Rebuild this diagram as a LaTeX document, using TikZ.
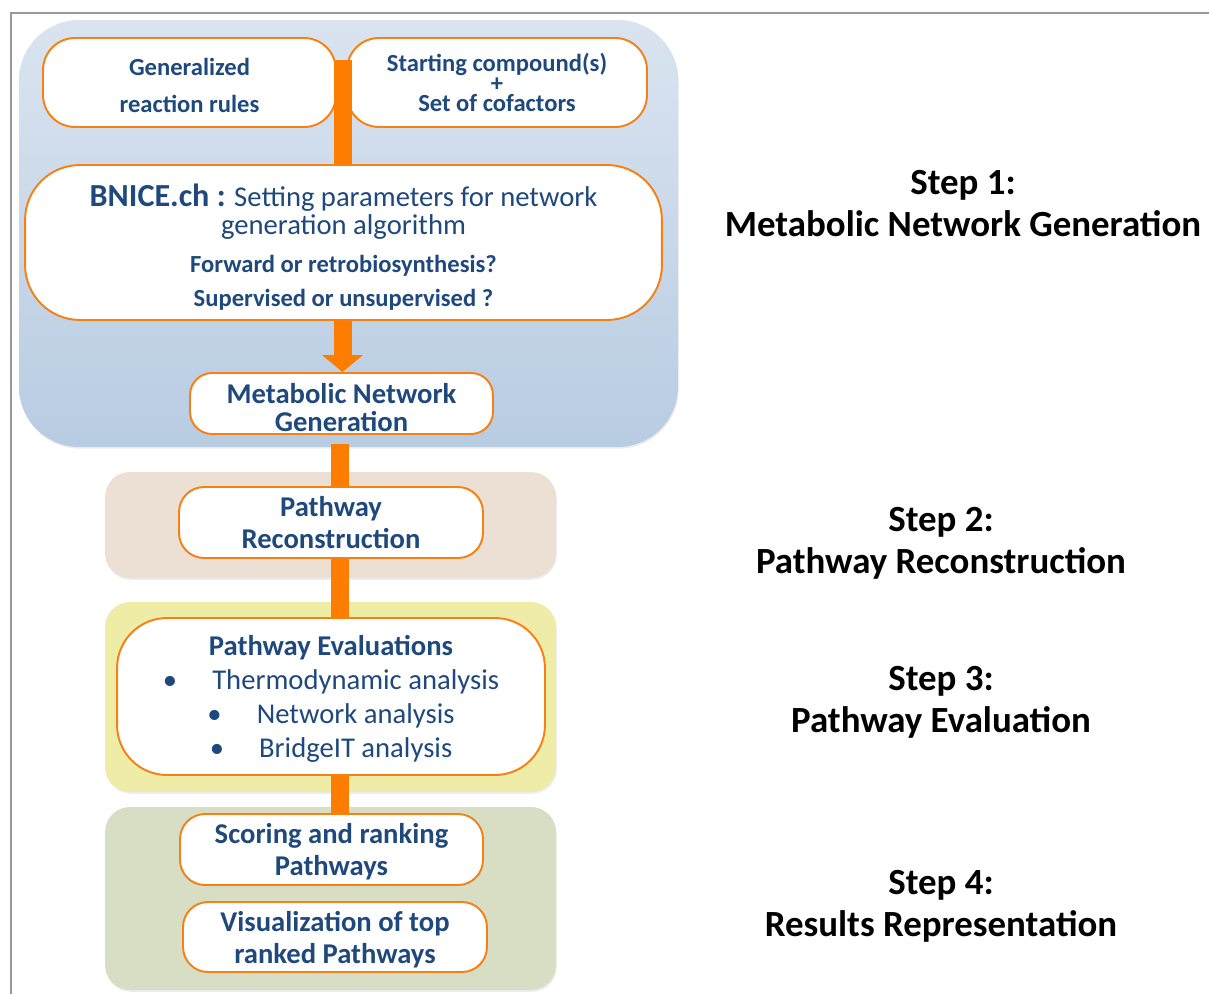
\documentclass[tikz,border=0pt]{standalone}
\usepackage{fontspec}
\setmainfont{Carlito}
\usetikzlibrary{arrows.meta,calc,shadows}
\definecolor{txtblue}{RGB}{31,73,125}
\definecolor{boxorange}{RGB}{247,128,20}
\definecolor{barorange}{RGB}{252,125,0}
\definecolor{blueTop}{RGB}{218,228,240}
\definecolor{blueBottom}{RGB}{184,204,226}
\definecolor{brownfill}{RGB}{236,223,211}
\definecolor{yellowfill}{RGB}{238,236,166}
\definecolor{greenfill}{RGB}{215,222,195}
\pgfdeclarelayer{regions}
\pgfdeclarelayer{bars}
\pgfsetlayers{regions,bars,main}

\begin{document}
\begin{tikzpicture}[x=0.02cm,y=-0.02cm,
    region/.style={rectangle,rounded corners=0.5cm,drop shadow={shadow xshift=0.5pt,shadow yshift=-1pt,opacity=0.15}},
    box/.style={rectangle,draw=boxorange,line width=1.1pt,fill=white,rounded corners=0.5cm,align=center,text=txtblue,font=\bfseries\fontsize{16.3}{18.3}\selectfont,inner sep=0pt,text depth=0pt},
    steplabel/.style={align=center,font=\bfseries\fontsize{21}{24.2}\selectfont},
    bar/.style={draw=barorange,line width=0.36cm}]
    \useasboundingbox (0,0) rectangle (1209,994);
    \draw[gray!80,line width=1.2pt] (11,994) -- (11,13) -- (1209,13);
    % coloured step regions
    \begin{pgfonlayer}{regions}
    \node[region,rounded corners=1.2cm,minimum width=13.18cm,minimum height=8.54cm,top color=blueTop,bottom color=blueBottom] (stepone) at (348.5,233.5) {};
    \node[region,fill=brownfill,minimum width=9.02cm,minimum height=2.12cm] (steptwo) at (330.5,525) {};
    \node[region,fill=yellowfill,minimum width=9.02cm,minimum height=3.8cm] (stepthree) at (330.5,697) {};
    \node[region,fill=greenfill,minimum width=9.02cm,minimum height=3.66cm] (stepfour) at (330.5,898.5) {};
    \end{pgfonlayer}
    % boxes
    \node[box,rounded corners=0.64cm,minimum width=5.86cm,minimum height=1.78cm,font=\bfseries\fontsize{14}{21}\selectfont] (rules) at (189.5,82.5) {\rule{0pt}{13.4pt}Generalized\\reaction rules};
    \node[box,rounded corners=0.64cm,minimum width=6cm,minimum height=1.78cm,font=\bfseries\fontsize{14}{16}\selectfont] (start) at (497,82.5) {Starting compound(s)\\[-4.7pt]+\\[-4.7pt]Set of cofactors};
    \node[box,rounded corners=1.1cm,minimum width=12.74cm,minimum height=3.1cm,font=\bfseries\fontsize{16.3}{15.9}\selectfont] (bnice) at (343.5,242.5) {\rule{0pt}{16.2pt}{\fontsize{18.3}{18}\selectfont BNICE.ch :} {\mdseries Setting parameters for network}\\{\mdseries generation algorithm}\\[6pt] {\fontsize{14}{15}\selectfont Forward or retrobiosynthesis?}\\[3.4pt] {\fontsize{14}{15}\selectfont Supervised or unsupervised ?}};
    \node[box,rounded corners=0.44cm,minimum width=6.06cm,minimum height=1.22cm,font=\bfseries\fontsize{16.3}{15.9}\selectfont] (netgen) at (341.5,403.5) {\rule{0pt}{15.6pt}Metabolic Network\\Generation};
    \node[box,minimum width=6.08cm,minimum height=1.42cm] (recon) at (331,522.5) {Pathway\\Reconstruction};
    \node[box,rounded corners=1cm,minimum width=8.56cm,minimum height=3.14cm,font=\bfseries\fontsize{16.3}{19.3}\selectfont] (evals) at (331,696.5) {Pathway Evaluations\\{\mdseries\textbullet\hspace{20pt}Thermodynamic analysis}\\{\mdseries\textbullet\hspace{20pt}Network analysis}\\{\mdseries\textbullet\hspace{20pt}BridgeIT analysis}};
    \node[box,minimum width=6.06cm,minimum height=1.42cm] (scoring) at (331.5,849.5) {Scoring and ranking\\Pathways};
    \node[box,minimum width=6.08cm,minimum height=1.4cm] (visual) at (335,937) {Visualization of top\\ranked Pathways};
    % orange bars
    \coordinate (bartop) at (342.5,60);
    \coordinate (barstart) at (340,444);
    \begin{pgfonlayer}{bars}
    \draw[bar] (barstart) -- (barstart |- scoring.north);
    \end{pgfonlayer}
    \draw[bar] (bartop) -- (bartop |- bnice.north);
    \draw[bar,-{Triangle[width=0.8cm,length=0.34cm]}] (bnice.south -| bartop) -- (bartop |- netgen.north);
    % step labels
    \node[steplabel] (labelone) at (963,203.5) {Step 1:\\Metabolic Network Generation};
    \node[steplabel] (labeltwo) at (941,543.5) {Step 2:\\Pathway Reconstruction};
    \node[steplabel] (labelthree) at (941,702.5) {Step 3:\\Pathway Evaluation};
    \node[steplabel] (labelfour) at (941,906.5) {Step 4:\\Results Representation};
\end{tikzpicture}
\end{document}
